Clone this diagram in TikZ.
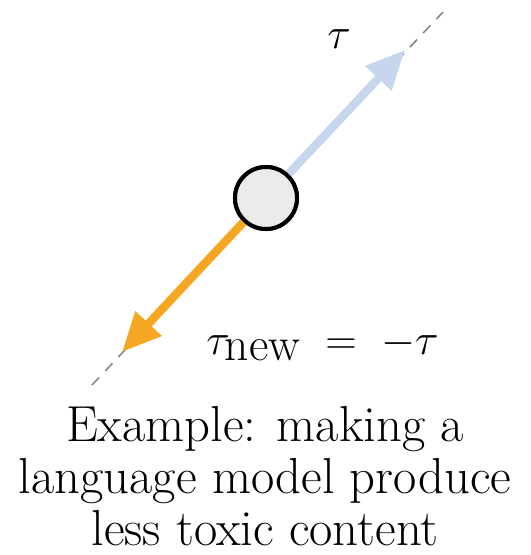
\documentclass[tikz,border=0pt]{standalone}
\usepackage{tikz}
\usetikzlibrary{arrows.meta}

\definecolor{taublue}{RGB}{197,214,238}
\definecolor{negorange}{RGB}{245,166,35}
\definecolor{ptgray}{RGB}{235,235,235}

\begin{document}
\begin{tikzpicture}[font=\fontsize{28.8}{29.5}\selectfont]
\tikzstyle{pt}=[circle, draw, line width=2.3pt, fill=ptgray, minimum size=1.24cm, inner sep=0pt]
\tikzstyle{vec}=[line width=4.8pt, -{Triangle[length=0.78cm, width=0.68cm]}, shorten <=-1pt]
\tikzstyle{axis}=[dashed, gray, line width=0.85pt, dash pattern=on 6pt off 5pt]
\useasboundingbox (0,0) rectangle (10.62,11.1);
\coordinate (lo) at (1.84,3.40);
\coordinate (hi) at (8.86,10.86);
\coordinate (tipU) at (8.10,10.10);
\coordinate (tipD) at (2.44,4.06);
\draw[axis] (lo) -- (hi);
\node[pt] (theta) at (5.32,7.14) {};
\draw[vec, taublue] (theta) -- (tipU);
\draw[vec, negorange] (theta) -- (tipD);
\node[pt] at (theta) {};
\node (tau) at (6.78,10.32) {$\tau$};
\node (taunew) at (6.45,4.2) {$\tau_{\hbox{\fontsize{27}{27}\selectfont new}}\;=\;-\tau$};
\node[align=center, anchor=base] (caption) at (5.3,0.2) {Example: making a\\ language model produce\\ less toxic content};
\end{tikzpicture}
\end{document}
